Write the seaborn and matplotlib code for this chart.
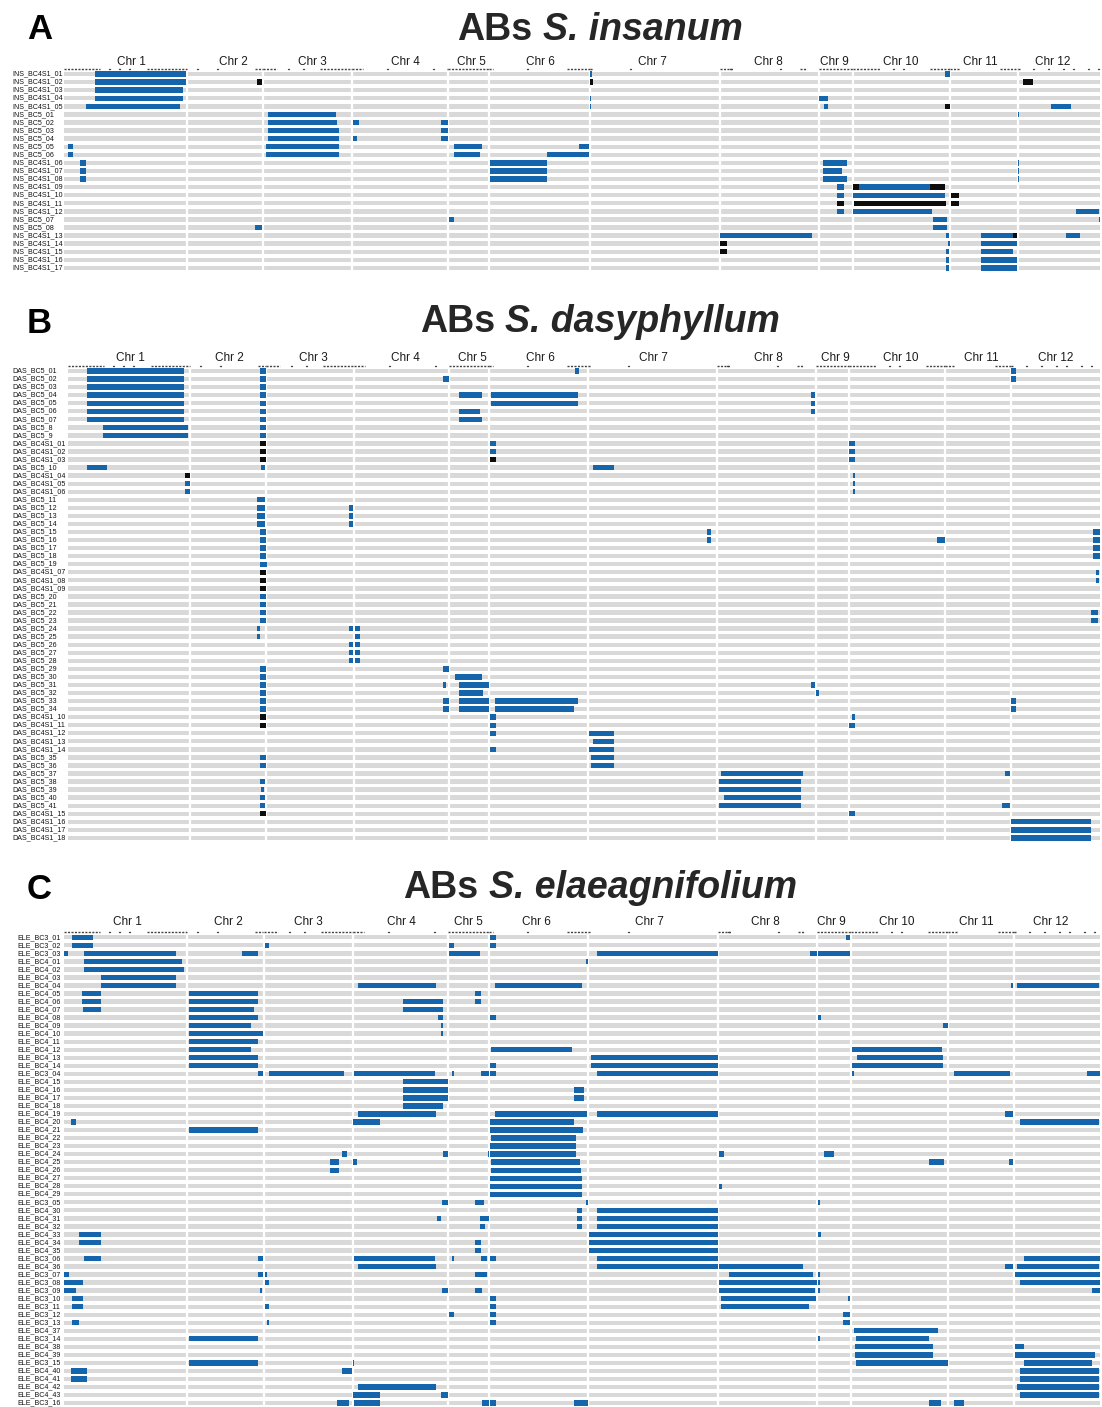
import matplotlib
matplotlib.use("Agg")
import matplotlib.pyplot as plt
import seaborn as sns

sns.set_theme(style="white")
plt.rcParams["font.family"] = ["Liberation Sans", "DejaVu Sans"]

W, H = 1102, 1407

#  Genome layout: chromosome lengths as drawn in each panel (Mb-like units)
chrom_names = ["Chr 1", "Chr 2", "Chr 3", "Chr 4", "Chr 5", "Chr 6",
               "Chr 7", "Chr 8", "Chr 9", "Chr 10", "Chr 11", "Chr 12"]
ins_chrom_len = [123, 76, 89, 96, 41, 101, 130, 99, 34, 97, 68, 82]
das_chrom_len = [122, 76, 88, 95, 40, 99, 129, 99, 33, 96, 66, 89]
ele_chrom_len = [123, 77, 89, 95, 41, 99, 130, 99, 34, 97, 66, 86]

#  Marker density track: dense marker spans and single markers
marker_spans = [(1, 0, 36), (1, 83, 123), (2, 68, 76), (3, 0, 14), (3, 57, 89),
                (4, 0, 11), (4, 95, 96), (5, 0, 41), (6, 0, 4), (6, 78, 101),
                (7, 0, 3), (8, 0, 13), (8, 80, 87), (9, 0, 34), (10, 0, 27),
                (10, 77, 97), (11, 0, 10), (11, 50, 68), (12, 0, 2)]
marker_dots = [(1, 45), (1, 55), (1, 65), (2, 10), (2, 30), (3, 25), (3, 40),
               (4, 35), (4, 81), (6, 38), (7, 40), (8, 10), (8, 60), (10, 40),
               (10, 50), (12, 15), (12, 30), (12, 45), (12, 55), (12, 70), (12, 80)]

#  Panel A: S. insanum
ins_rows = ["INS_BC4S1_01", "INS_BC4S1_02", "INS_BC4S1_03", "INS_BC4S1_04", "INS_BC4S1_05",
            "INS_BC5_01", "INS_BC5_02", "INS_BC5_03", "INS_BC5_04", "INS_BC5_05", "INS_BC5_06",
            "INS_BC4S1_06", "INS_BC4S1_07", "INS_BC4S1_08", "INS_BC4S1_09", "INS_BC4S1_10",
            "INS_BC4S1_11", "INS_BC4S1_12", "INS_BC5_07", "INS_BC5_08", "INS_BC4S1_13",
            "INS_BC4S1_14", "INS_BC4S1_15", "INS_BC4S1_16", "INS_BC4S1_17"]
# (row, chrom, start, end, call)  b = introgression, k = homozygous
ins_segments = [
    (0, 1, 31, 122, "b"), (0, 7, 0, 1.5, "b"), (0, 10, 92, 97, "b"),
    (1, 1, 31, 122, "b"), (1, 2, 70, 75, "k"), (1, 7, 0, 3, "k"), (1, 12, 5, 15, "k"),
    (2, 1, 31, 119, "b"),
    (3, 1, 31, 119, "b"), (3, 7, 0, 1, "b"), (3, 9, 0, 9, "b"),
    (4, 1, 22, 116, "b"), (4, 7, 0, 1, "b"), (4, 9, 5, 9, "b"), (4, 10, 92, 97, "k"), (4, 12, 33, 53, "b"),
    (5, 3, 5, 73, "b"), (5, 12, 0, 1, "b"),
    (6, 3, 5, 74, "b"), (6, 4, 1, 7, "b"), (6, 4, 89, 96, "b"),
    (7, 3, 5, 76, "b"), (7, 4, 89, 96, "b"),
    (8, 3, 5, 76, "b"), (8, 4, 1, 5, "b"), (8, 4, 89, 96, "b"),
    (9, 1, 4, 9, "b"), (9, 3, 3, 76, "b"), (9, 5, 6, 34, "b"), (9, 6, 90, 100, "b"),
    (10, 1, 4, 9, "b"), (10, 3, 3, 76, "b"), (10, 5, 6, 32, "b"), (10, 6, 58, 100, "b"),
    (11, 1, 16, 22, "b"), (11, 6, 1, 58, "b"), (11, 9, 4, 28, "b"), (11, 12, 0, 1, "b"),
    (12, 1, 16, 22, "b"), (12, 6, 1, 58, "b"), (12, 9, 4, 23, "b"), (12, 12, 0, 1, "b"),
    (13, 1, 16, 22, "b"), (13, 6, 1, 58, "b"), (13, 9, 4, 28, "b"), (13, 12, 0, 1, "b"),
    (14, 9, 18, 25, "b"), (14, 10, 0, 6, "k"), (14, 10, 6, 77, "b"), (14, 10, 77, 92, "k"),
    (15, 9, 18, 25, "b"), (15, 10, 0, 92, "b"), (15, 11, 1, 9, "k"),
    (16, 9, 18, 25, "k"), (16, 10, 1, 93, "k"), (16, 11, 1, 9, "k"),
    (17, 9, 18, 25, "b"), (17, 10, 0, 79, "b"), (17, 12, 58, 81, "b"),
    (18, 5, 1, 6, "b"), (18, 10, 80, 94, "b"), (18, 12, 81, 82, "b"),
    (19, 2, 68, 75, "b"), (19, 10, 80, 94, "b"),
    (20, 8, 0, 92, "b"), (20, 10, 93, 96, "b"), (20, 11, 31, 63, "b"), (20, 11, 63, 67, "k"), (20, 12, 48, 62, "b"),
    (21, 8, 0, 7, "k"), (21, 10, 95, 97, "b"), (21, 11, 31, 67, "b"),
    (22, 8, 0, 7, "k"), (22, 10, 93, 96, "b"), (22, 11, 31, 63, "b"),
    (23, 10, 93, 96, "b"), (23, 11, 31, 67, "b"),
    (24, 10, 93, 96, "b"), (24, 11, 31, 67, "b"),
]

#  Panel B: S. dasyphyllum
das_rows = ["DAS_BC5_01", "DAS_BC5_02", "DAS_BC5_03", "DAS_BC5_04", "DAS_BC5_05", "DAS_BC5_06",
            "DAS_BC5_07", "DAS_BC5_8", "DAS_BC5_9", "DAS_BC4S1_01", "DAS_BC4S1_02", "DAS_BC4S1_03",
            "DAS_BC5_10", "DAS_BC4S1_04", "DAS_BC4S1_05", "DAS_BC4S1_06", "DAS_BC5_11", "DAS_BC5_12",
            "DAS_BC5_13", "DAS_BC5_14", "DAS_BC5_15", "DAS_BC5_16", "DAS_BC5_17", "DAS_BC5_18",
            "DAS_BC5_19", "DAS_BC4S1_07", "DAS_BC4S1_08", "DAS_BC4S1_09", "DAS_BC5_20", "DAS_BC5_21",
            "DAS_BC5_22", "DAS_BC5_23", "DAS_BC5_24", "DAS_BC5_25", "DAS_BC5_26", "DAS_BC5_27",
            "DAS_BC5_28", "DAS_BC5_29", "DAS_BC5_30", "DAS_BC5_31", "DAS_BC5_32", "DAS_BC5_33",
            "DAS_BC5_34", "DAS_BC4S1_10", "DAS_BC4S1_11", "DAS_BC4S1_12", "DAS_BC4S1_13",
            "DAS_BC4S1_14", "DAS_BC5_35", "DAS_BC5_36", "DAS_BC5_37", "DAS_BC5_38", "DAS_BC5_39",
            "DAS_BC5_40", "DAS_BC5_41", "DAS_BC4S1_15", "DAS_BC4S1_16", "DAS_BC4S1_17", "DAS_BC4S1_18"]
das_segments = [
    (0, 1, 19, 116, "b"), (0, 2, 70, 76, "b"), (0, 6, 86, 90, "b"), (0, 12, 0, 5, "b"),
    (1, 1, 19, 116, "b"), (1, 2, 70, 76, "b"), (1, 4, 89, 95, "b"), (1, 12, 0, 5, "b"),
    (2, 1, 19, 116, "b"), (2, 2, 70, 76, "b"),
    (3, 1, 19, 116, "b"), (3, 2, 70, 76, "b"), (3, 5, 10, 33, "b"), (3, 6, 2, 89, "b"), (3, 8, 94, 98, "b"),
    (4, 1, 19, 116, "b"), (4, 2, 70, 76, "b"), (4, 6, 2, 89, "b"), (4, 8, 94, 98, "b"),
    (5, 1, 19, 116, "b"), (5, 2, 70, 76, "b"), (5, 5, 10, 31, "b"), (5, 8, 94, 98, "b"),
    (6, 1, 19, 116, "b"), (6, 2, 70, 76, "b"), (6, 5, 10, 33, "b"),
    (7, 1, 35, 120, "b"), (7, 2, 70, 76, "b"),
    (8, 1, 35, 120, "b"), (8, 2, 70, 76, "b"),
    (9, 2, 70, 76, "k"), (9, 6, 1, 7, "b"), (9, 10, 0, 6, "b"),
    (10, 2, 70, 76, "k"), (10, 6, 1, 7, "b"), (10, 10, 0, 6, "b"),
    (11, 2, 70, 76, "k"), (11, 6, 1, 7, "k"), (11, 10, 0, 6, "b"),
    (12, 1, 19, 39, "b"), (12, 2, 71, 75, "b"), (12, 7, 5, 26, "b"),
    (13, 1, 117, 122, "k"), (13, 10, 4, 6, "b"),
    (14, 1, 117, 122, "b"), (14, 10, 4, 6, "b"),
    (15, 1, 117, 122, "b"), (15, 10, 4, 6, "b"),
    (16, 2, 67, 75, "b"),
    (17, 2, 67, 75, "b"), (17, 3, 83, 87, "b"),
    (18, 2, 67, 75, "b"), (18, 3, 83, 87, "b"),
    (19, 2, 67, 75, "b"), (19, 3, 83, 87, "b"),
    (20, 2, 70, 76, "b"), (20, 7, 119, 123, "b"), (20, 12, 82, 89, "b"),
    (21, 2, 70, 76, "b"), (21, 7, 119, 123, "b"), (21, 10, 88, 96, "b"), (21, 12, 82, 89, "b"),
    (22, 2, 70, 76, "b"), (22, 12, 82, 89, "b"),
    (23, 2, 70, 76, "b"), (23, 12, 82, 89, "b"),
    (24, 2, 70, 76, "b"), (24, 3, 0, 1, "b"),
    (25, 2, 70, 76, "k"), (25, 12, 85, 88, "b"),
    (26, 2, 70, 76, "k"), (26, 12, 85, 88, "b"),
    (27, 2, 70, 76, "k"),
    (28, 2, 70, 76, "b"),
    (29, 2, 70, 76, "b"),
    (30, 2, 70, 76, "b"), (30, 12, 80, 87, "b"),
    (31, 2, 70, 76, "b"), (31, 12, 80, 87, "b"),
    (32, 2, 67, 70, "b"), (32, 3, 83, 87, "b"), (32, 4, 1, 6, "b"),
    (33, 2, 67, 70, "b"), (33, 4, 1, 6, "b"),
    (34, 3, 83, 87, "b"), (34, 4, 1, 6, "b"),
    (35, 3, 83, 87, "b"), (35, 4, 1, 6, "b"),
    (36, 3, 83, 87, "b"), (36, 4, 1, 6, "b"),
    (37, 2, 70, 76, "b"), (37, 4, 89, 95, "b"),
    (38, 2, 70, 76, "b"), (38, 5, 6, 33, "b"),
    (39, 2, 70, 76, "b"), (39, 4, 89, 92, "b"), (39, 5, 10, 40, "b"), (39, 8, 94, 98, "b"),
    (40, 2, 70, 76, "b"), (40, 5, 10, 34, "b"), (40, 9, 0, 3, "b"),
    (41, 2, 70, 76, "b"), (41, 4, 89, 95, "b"), (41, 5, 10, 40, "b"), (41, 6, 6, 89, "b"), (41, 12, 0, 5, "b"),
    (42, 2, 70, 76, "b"), (42, 4, 89, 95, "b"), (42, 5, 10, 40, "b"), (42, 6, 6, 85, "b"), (42, 12, 0, 5, "b"),
    (43, 2, 70, 76, "k"), (43, 6, 1, 7, "b"), (43, 10, 3, 6, "b"),
    (44, 2, 70, 76, "k"), (44, 6, 1, 7, "b"), (44, 10, 0, 6, "b"),
    (45, 6, 1, 7, "b"), (45, 7, 1, 26, "b"),
    (46, 7, 5, 26, "b"),
    (47, 6, 1, 7, "b"), (47, 7, 1, 26, "b"),
    (48, 2, 70, 76, "b"), (48, 7, 3, 26, "b"),
    (49, 2, 70, 76, "b"), (49, 7, 3, 26, "b"),
    (50, 8, 4, 86, "b"), (50, 11, 60, 65, "b"),
    (51, 2, 70, 75, "b"), (51, 8, 2, 84, "b"),
    (52, 2, 71, 74, "b"), (52, 8, 2, 84, "b"),
    (53, 2, 70, 75, "b"), (53, 8, 7, 84, "b"),
    (54, 2, 70, 75, "b"), (54, 8, 2, 84, "b"), (54, 11, 57, 65, "b"),
    (55, 2, 70, 76, "k"), (55, 10, 0, 6, "b"),
    (56, 12, 0, 80, "b"), (57, 12, 0, 80, "b"), (58, 12, 0, 80, "b"),
]

#  Panel C: S. elaeagnifolium
ele_rows = ["ELE_BC3_01", "ELE_BC3_02", "ELE_BC3_03", "ELE_BC4_01", "ELE_BC4_02", "ELE_BC4_03",
            "ELE_BC4_04", "ELE_BC4_05", "ELE_BC4_06", "ELE_BC4_07", "ELE_BC4_08", "ELE_BC4_09",
            "ELE_BC4_10", "ELE_BC4_11", "ELE_BC4_12", "ELE_BC4_13", "ELE_BC4_14", "ELE_BC3_04",
            "ELE_BC4_15", "ELE_BC4_16", "ELE_BC4_17", "ELE_BC4_18", "ELE_BC4_19", "ELE_BC4_20",
            "ELE_BC4_21", "ELE_BC4_22", "ELE_BC4_23", "ELE_BC4_24", "ELE_BC4_25", "ELE_BC4_26",
            "ELE_BC4_27", "ELE_BC4_28", "ELE_BC4_29", "ELE_BC3_05", "ELE_BC4_30", "ELE_BC4_31",
            "ELE_BC4_32", "ELE_BC4_33", "ELE_BC4_34", "ELE_BC4_35", "ELE_BC3_06", "ELE_BC4_36",
            "ELE_BC3_07", "ELE_BC3_08", "ELE_BC3_09", "ELE_BC3_10", "ELE_BC3_11", "ELE_BC3_12",
            "ELE_BC3_13", "ELE_BC4_37", "ELE_BC3_14", "ELE_BC4_38", "ELE_BC4_39", "ELE_BC3_15",
            "ELE_BC4_40", "ELE_BC4_41", "ELE_BC4_42", "ELE_BC4_43", "ELE_BC3_16"]
ele_segments = [
    (0, 1, 8, 29, "b"), (0, 6, 1, 7, "b"), (0, 9, 29, 33, "b"),
    (1, 1, 8, 29, "b"), (1, 3, 1, 5, "b"), (1, 5, 1, 6, "b"), (1, 6, 1, 7, "b"),
    (2, 1, 0, 4, "b"), (2, 1, 20, 112, "b"), (2, 2, 55, 71, "b"), (2, 5, 1, 32, "b"),
    (2, 7, 9, 130, "b"), (2, 8, 92, 99, "b"), (2, 9, 1, 33, "b"),
    (3, 1, 20, 118, "b"), (3, 6, 97, 99, "b"),
    (4, 1, 20, 120, "b"),
    (5, 1, 37, 112, "b"),
    (6, 1, 37, 112, "b"), (6, 4, 5, 83, "b"), (6, 6, 6, 93, "b"), (6, 11, 63, 65, "b"), (6, 12, 3, 85, "b"),
    (7, 1, 18, 37, "b"), (7, 2, 2, 71, "b"), (7, 5, 27, 33, "b"),
    (8, 1, 18, 37, "b"), (8, 2, 2, 71, "b"), (8, 4, 50, 90, "b"), (8, 5, 27, 33, "b"),
    (9, 1, 19, 37, "b"), (9, 2, 2, 67, "b"), (9, 4, 50, 90, "b"),
    (10, 2, 2, 71, "b"), (10, 4, 85, 90, "b"), (10, 6, 1, 7, "b"), (10, 9, 1, 4, "b"),
    (11, 2, 2, 64, "b"), (11, 4, 88, 90, "b"), (11, 10, 92, 97, "b"),
    (12, 2, 2, 76, "b"), (12, 4, 88, 90, "b"),
    (13, 2, 2, 71, "b"),
    (14, 2, 2, 64, "b"), (14, 6, 2, 83, "b"), (14, 10, 1, 91, "b"),
    (15, 2, 2, 71, "b"), (15, 7, 3, 130, "b"), (15, 10, 6, 92, "b"),
    (16, 2, 2, 71, "b"), (16, 6, 1, 7, "b"), (16, 7, 3, 130, "b"), (16, 10, 1, 92, "b"),
    (17, 2, 71, 76, "b"), (17, 3, 5, 80, "b"), (17, 4, 1, 82, "b"), (17, 5, 4, 6, "b"),
    (17, 5, 33, 41, "b"), (17, 6, 1, 7, "b"), (17, 7, 9, 130, "b"), (17, 10, 1, 3, "b"),
    (17, 11, 6, 62, "b"), (17, 12, 73, 86, "b"),
    (18, 4, 50, 95, "b"),
    (19, 4, 50, 95, "b"), (19, 6, 85, 95, "b"),
    (20, 4, 50, 95, "b"), (20, 6, 85, 95, "b"),
    (21, 4, 50, 90, "b"),
    (22, 4, 5, 83, "b"), (22, 6, 6, 98, "b"), (22, 7, 9, 130, "b"), (22, 11, 57, 65, "b"),
    (23, 1, 7, 12, "b"), (23, 4, 0, 27, "b"), (23, 6, 1, 85, "b"), (23, 12, 6, 85, "b"),
    (24, 2, 2, 71, "b"), (24, 6, 1, 94, "b"),
    (25, 6, 2, 87, "b"),
    (26, 6, 1, 87, "b"),
    (27, 3, 78, 83, "b"), (27, 4, 90, 95, "b"), (27, 5, 40, 41, "b"), (27, 6, 1, 87, "b"),
    (27, 8, 1, 6, "b"), (27, 9, 7, 17, "b"),
    (28, 3, 66, 75, "b"), (28, 4, 0, 4, "b"), (28, 6, 2, 91, "b"), (28, 10, 78, 93, "b"), (28, 11, 61, 65, "b"),
    (29, 3, 66, 75, "b"), (29, 6, 2, 92, "b"),
    (30, 6, 1, 93, "b"),
    (31, 6, 1, 93, "b"), (31, 8, 1, 4, "b"),
    (32, 6, 1, 93, "b"),
    (33, 4, 89, 95, "b"), (33, 5, 27, 36, "b"), (33, 6, 97, 99, "b"), (33, 9, 1, 3, "b"),
    (34, 6, 88, 93, "b"), (34, 7, 9, 130, "b"),
    (35, 4, 84, 88, "b"), (35, 5, 32, 41, "b"), (35, 6, 88, 93, "b"), (35, 7, 9, 130, "b"),
    (36, 5, 32, 37, "b"), (36, 6, 88, 93, "b"), (36, 7, 9, 130, "b"),
    (37, 1, 15, 37, "b"), (37, 7, 1, 130, "b"), (37, 9, 1, 4, "b"),
    (38, 1, 15, 37, "b"), (38, 5, 27, 33, "b"), (38, 7, 1, 130, "b"),
    (39, 5, 27, 33, "b"), (39, 7, 1, 130, "b"),
    (40, 1, 20, 37, "b"), (40, 2, 71, 76, "b"), (40, 4, 1, 82, "b"), (40, 5, 4, 6, "b"),
    (40, 5, 33, 39, "b"), (40, 6, 1, 7, "b"), (40, 7, 9, 130, "b"), (40, 12, 10, 88, "b"),
    (41, 4, 5, 83, "b"), (41, 7, 9, 130, "b"), (41, 8, 1, 85, "b"), (41, 11, 57, 65, "b"), (41, 12, 3, 85, "b"),
    (42, 1, 0, 5, "b"), (42, 2, 71, 76, "b"), (42, 3, 1, 3, "b"), (42, 5, 27, 39, "b"),
    (42, 8, 11, 95, "b"), (42, 9, 1, 3, "b"), (42, 12, 1, 86, "b"),
    (43, 1, 0, 19, "b"), (43, 3, 1, 5, "b"), (43, 8, 1, 99, "b"), (43, 9, 1, 3, "b"), (43, 12, 6, 86, "b"),
    (44, 1, 0, 12, "b"), (44, 2, 73, 75, "b"), (44, 4, 89, 95, "b"), (44, 5, 27, 34, "b"),
    (44, 8, 1, 97, "b"), (44, 9, 1, 3, "b"), (44, 12, 78, 86, "b"),
    (45, 1, 8, 19, "b"), (45, 6, 1, 7, "b"), (45, 8, 3, 98, "b"), (45, 9, 31, 33, "b"),
    (46, 1, 8, 19, "b"), (46, 3, 1, 5, "b"), (46, 6, 1, 7, "b"), (46, 8, 3, 91, "b"),
    (47, 5, 1, 6, "b"), (47, 6, 1, 7, "b"), (47, 9, 26, 33, "b"),
    (48, 1, 8, 15, "b"), (48, 3, 3, 5, "b"), (48, 6, 1, 7, "b"), (48, 9, 26, 33, "b"),
    (49, 10, 3, 87, "b"),
    (50, 2, 2, 71, "b"), (50, 9, 1, 3, "b"), (50, 10, 5, 78, "b"),
    (51, 10, 4, 82, "b"), (51, 12, 1, 10, "b"),
    (52, 10, 4, 82, "b"), (52, 12, 1, 81, "b"),
    (53, 2, 2, 71, "b"), (53, 4, 0, 1, "b"), (53, 10, 5, 97, "b"), (53, 12, 10, 78, "b"),
    (54, 1, 7, 23, "b"), (54, 3, 78, 88, "b"), (54, 12, 6, 85, "b"),
    (55, 1, 7, 23, "b"), (55, 12, 6, 85, "b"),
    (56, 4, 5, 83, "b"), (56, 12, 3, 85, "b"),
    (57, 4, 0, 27, "b"), (57, 4, 88, 95, "b"), (57, 12, 6, 85, "b"),
    (58, 3, 73, 85, "b"), (58, 4, 1, 27, "b"), (58, 5, 34, 41, "b"), (58, 6, 1, 7, "b"),
    (58, 6, 85, 99, "b"), (58, 10, 78, 90, "b"), (58, 11, 6, 16, "b"),
]

BLUE = "#1565ad"
BLACK = "#0d0d0d"
GREY = "#d9d9d9"
# small horizontal nudges (px) of the chromosome captions, as in the original layout
ins_label_nudge = [6, 8, 5, 5, 3, 1, -3, -1, -2, -1, -4, -6]
das_label_nudge = [1, 1, 3, 4, 3, 2, 1, 2, 3, 4, 3, 0]
ele_label_nudge = [2, 3, 0, 1, 0, -2, -4, -2, -3, -3, -5, -6]


#  Title with italic species name, centred on the page
def draw_title(fig, letter, species, base_px, letter_base_px):
    y = 1 - base_px / H
    fig.text(27 / W, 1 - letter_base_px / H, letter, fontsize=25, fontweight="bold",
             ha="left", va="baseline", color="black")
    t1 = fig.text(0, y, "ABs", fontsize=27, fontweight="bold", va="baseline")
    t2 = fig.text(0, y, species, fontsize=27, fontweight="bold", style="italic", va="baseline")
    r = fig.canvas.get_renderer()
    w1 = t1.get_window_extent(r).width
    w2 = t2.get_window_extent(r).width
    gap = 27 * 100 / 72 * 0.278
    x0 = 600 - (w1 + gap + w2) / 2
    t1.set_x(x0 / W)
    t2.set_x((x0 + w1 + gap) / W)


#  One haplotype panel
def draw_panel(fig, rows, segments, chrom_len, nudge, row0_px, step_px, left_px, chr_y_px, label_x_px):
    n = len(rows)
    starts = [sum(chrom_len[:i]) for i in range(len(chrom_len))]
    total = sum(chrom_len)

    def gpos(chrom, pos):
        return starts[chrom - 1] + min(pos, chrom_len[chrom - 1])

    right_px = 1100
    top_px = row0_px - 1.0 * step_px
    bot_px = row0_px + (n - 0.5) * step_px
    ax = fig.add_axes([left_px / W, 1 - bot_px / H,
                       (right_px - left_px) / W, (bot_px - top_px) / H])
    ax.set_xlim(0, total)
    ax.set_ylim(n - 0.5, -1.0)
    ax.axis("off")
    px = total / (right_px - left_px)

    # grey background tracks
    for i in range(n):
        ax.broken_barh([(0, total)], (i - 0.27, 0.54), facecolors=GREY, lw=0)

    # chromosome separators
    for s in starts[1:]:
        ax.axvline(s, color="white", lw=1.6, zorder=2)

    # introgressed segments
    for row, chrom, start, end, call in segments:
        color = BLUE if call == "b" else BLACK
        x0 = gpos(chrom, start)
        x1 = gpos(chrom, end)
        ax.broken_barh([(x0, max(x1 - x0, 0.9 * px))], (row - 0.33, 0.66),
                       facecolors=color, lw=0, zorder=3)

    # marker track
    for chrom, start, end in marker_spans:
        ax.plot([gpos(chrom, start), gpos(chrom, end)], [-0.62, -0.62], color="#444444",
                lw=1.0, linestyle=(0, (1.5, 1.0)), solid_capstyle="butt", clip_on=False, zorder=4)
    for chrom, pos in marker_dots:
        ax.plot([gpos(chrom, pos), gpos(chrom, pos) + px], [-0.62, -0.62], color="#444444",
                lw=1.0, clip_on=False, zorder=4)

    # chromosome names
    chr_y = (chr_y_px - row0_px) / step_px
    for name, s, l, dx in zip(chrom_names, starts, chrom_len, nudge):
        ax.text(s + l / 2 + dx * px, chr_y, name, ha="center", va="center", fontsize=8.5,
                color="#1a1a1a", clip_on=False)

    # sample labels
    for i, lab in enumerate(rows):
        fig.text(label_x_px / W, 1 - (row0_px + i * step_px) / H, lab, ha="left",
                 va="center", fontsize=5.1, color="#111111")
    return ax


fig = plt.figure(figsize=(W / 100, H / 100), dpi=100)
fig.patch.set_facecolor("white")

draw_title(fig, "A", "S. insanum", 40.5, 39)
draw_panel(fig, ins_rows, ins_segments, ins_chrom_len, ins_label_nudge, 74.0, 8.08, 64, 62, 12)

draw_title(fig, "B", "S. dasyphyllum", 331.5, 333)
draw_panel(fig, das_rows, das_segments, das_chrom_len, das_label_nudge, 371.0, 8.05, 68, 358, 12)

draw_title(fig, "C", "S. elaeagnifolium", 898.5, 899)
draw_panel(fig, ele_rows, ele_segments, ele_chrom_len, ele_label_nudge, 937.3, 8.03, 64, 922, 17)

fig.savefig("out.png", dpi=100, facecolor="white")
